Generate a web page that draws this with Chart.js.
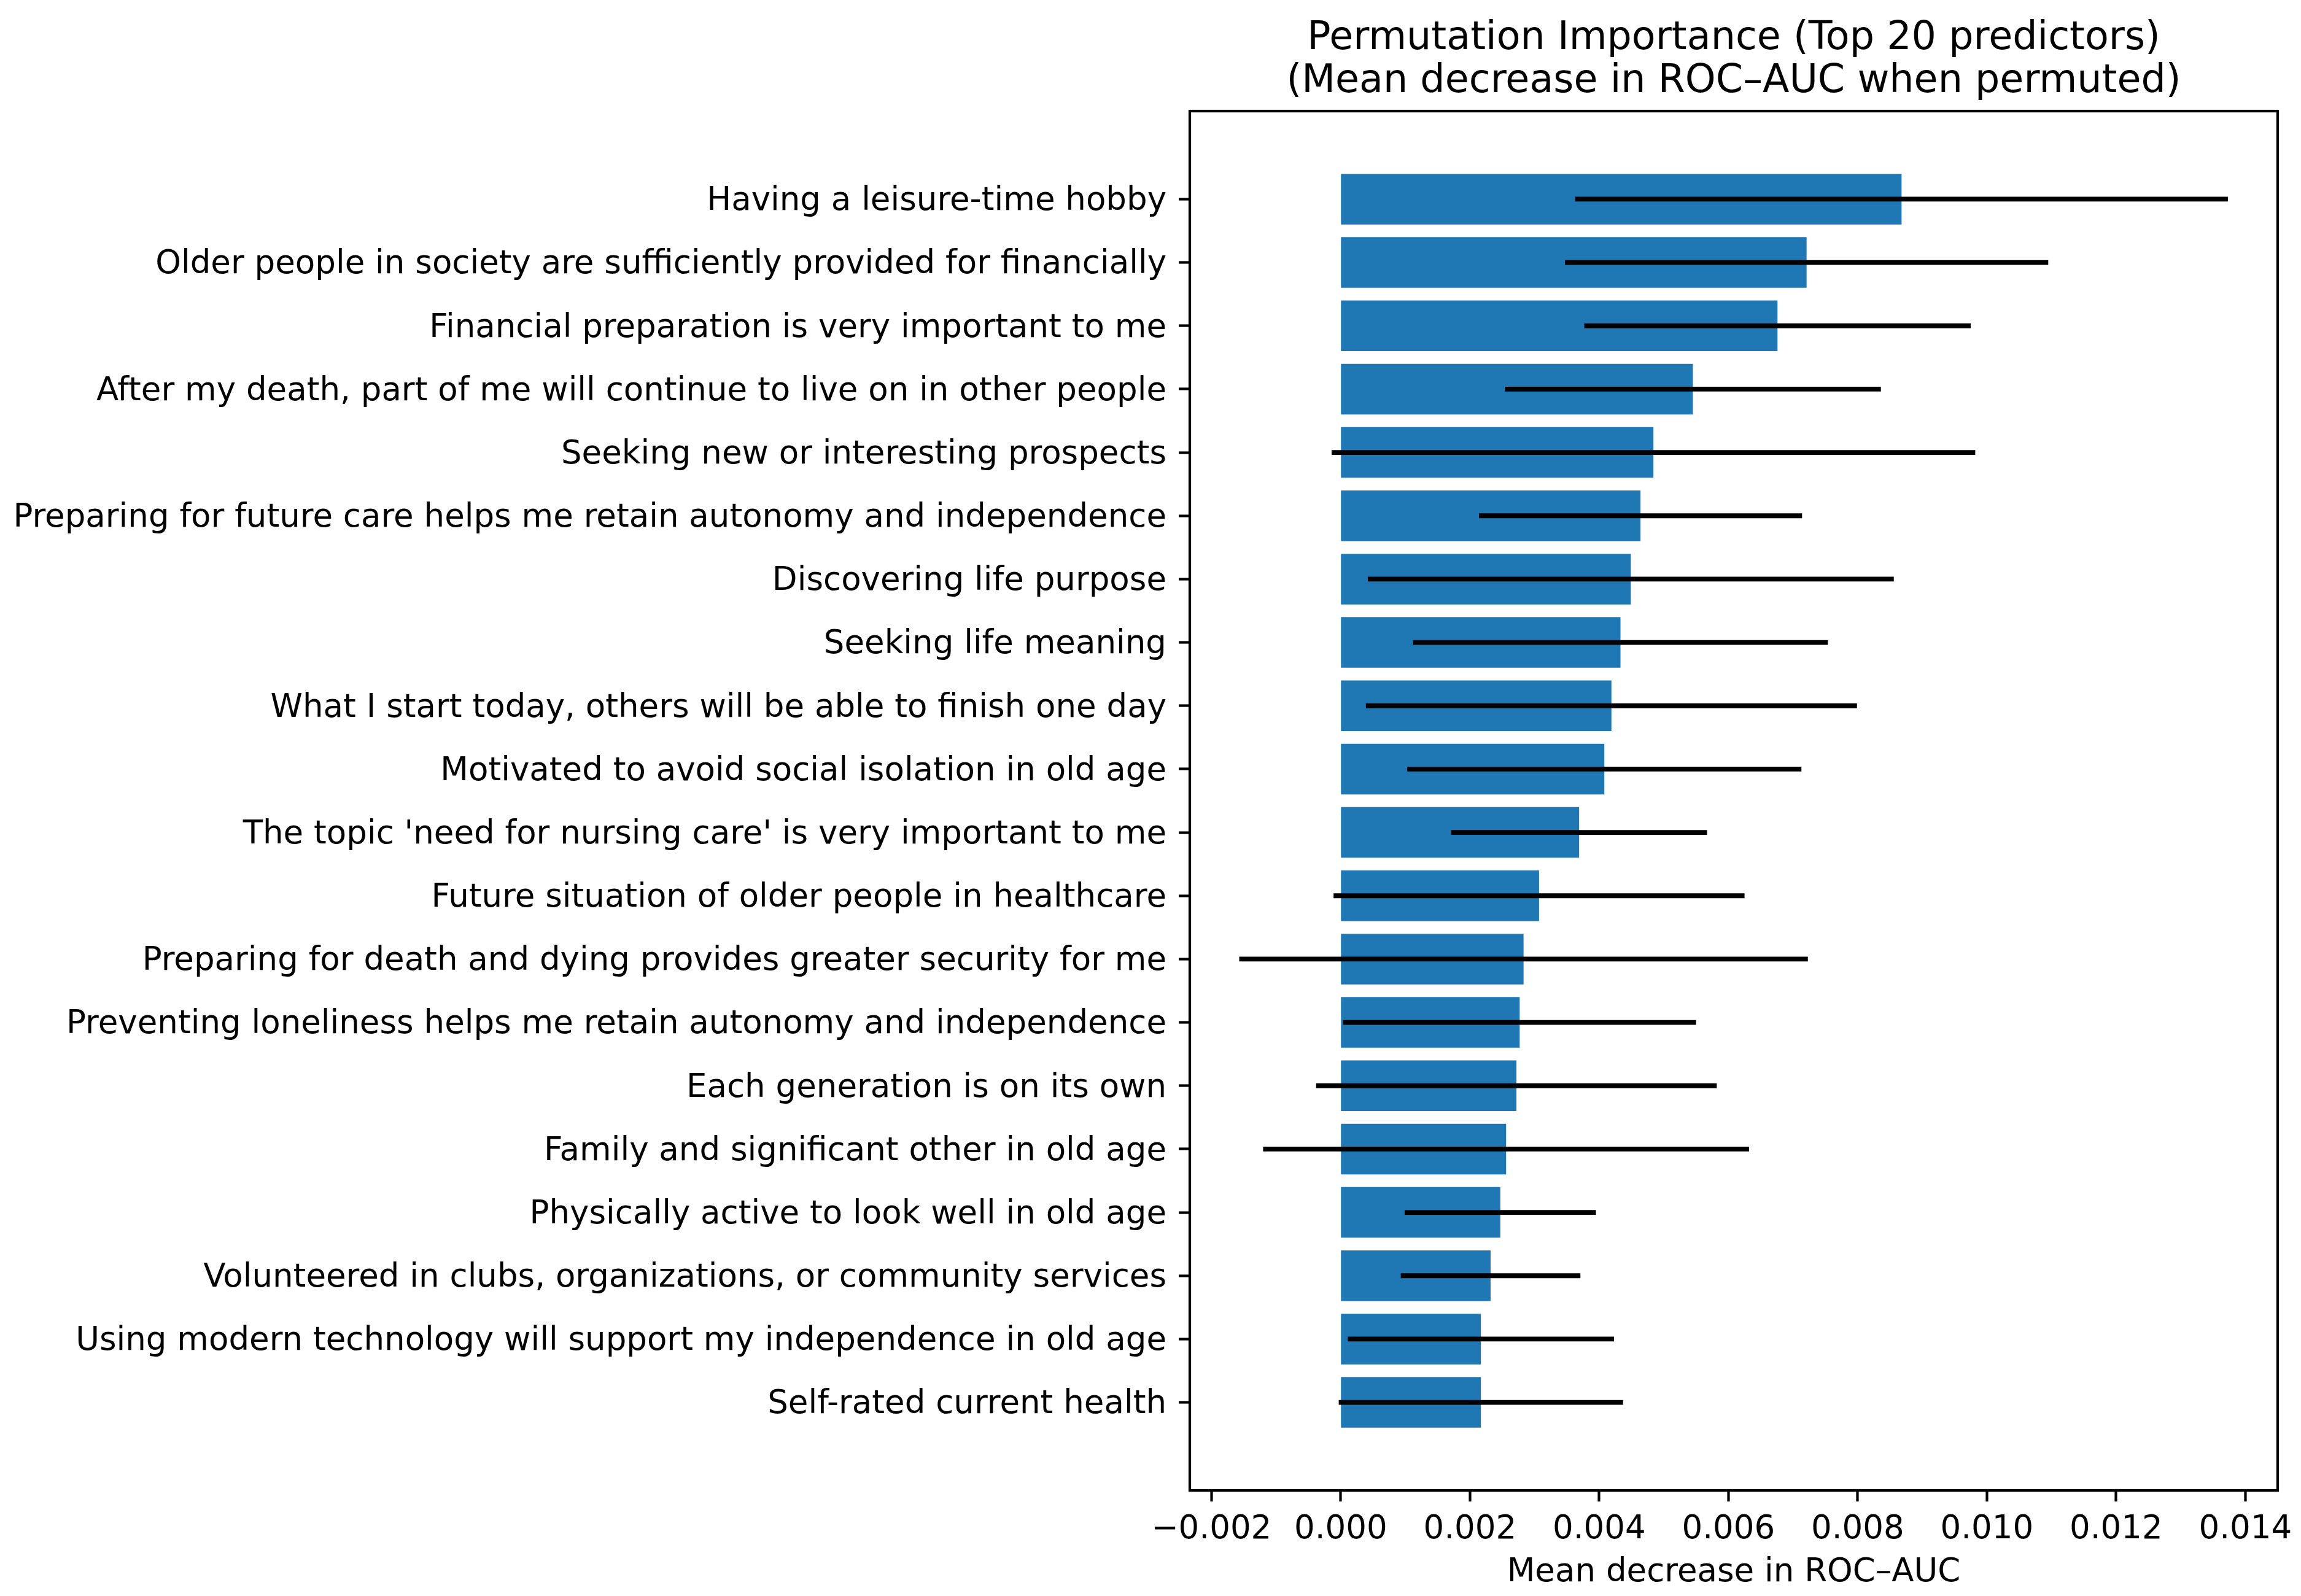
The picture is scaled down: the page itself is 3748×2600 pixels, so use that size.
<!DOCTYPE html>
<html>
<head>
<meta charset="utf-8">
<script src="https://cdn.jsdelivr.net/npm/chart.js@4.4.1/dist/chart.umd.min.js"></script>
<style>
  html, body { margin: 0; padding: 0; background: #ffffff; }
  #c { display: block; }
</style>
</head>
<body>
<canvas id="c" width="3748" height="2600" style="width:3748px;height:2600px"></canvas>
<script>
// ---- Data ----
const predictors = [
  "Having a leisure-time hobby",
  "Older people in society are sufficiently provided for financially",
  "Financial preparation is very important to me",
  "After my death, part of me will continue to live on in other people",
  "Seeking new or interesting prospects",
  "Preparing for future care helps me retain autonomy and independence",
  "Discovering life purpose",
  "Seeking life meaning",
  "What I start today, others will be able to finish one day",
  "Motivated to avoid social isolation in old age",
  "The topic 'need for nursing care' is very important to me",
  "Future situation of older people in healthcare",
  "Preparing for death and dying provides greater security for me",
  "Preventing loneliness helps me retain autonomy and independence",
  "Each generation is on its own",
  "Family and significant other in old age",
  "Physically active to look well in old age",
  "Volunteered in clubs, organizations, or community services",
  "Using modern technology will support my independence in old age",
  "Self-rated current health"
];
const importanceMean = [
  0.00868, 0.00721, 0.00676, 0.00545, 0.00484, 0.00464, 0.00449, 0.00433, 0.00419, 0.00408,
  0.00369, 0.00307, 0.00283, 0.00277, 0.00272, 0.00256, 0.00247, 0.00232, 0.00217, 0.00217
];
const importanceStd = [
  0.00505, 0.00374, 0.00299, 0.00291, 0.00498, 0.00250, 0.00407, 0.00321, 0.00380, 0.00305,
  0.00198, 0.00318, 0.00440, 0.00273, 0.00310, 0.00376, 0.00148, 0.00139, 0.00206, 0.00220
];
const xTickValues = [-0.002, 0.000, 0.002, 0.004, 0.006, 0.008, 0.010, 0.012, 0.014];
const titleLines = ["Permutation Importance (Top 20 predictors)", "(Mean decrease in ROC\u2013AUC when permuted)"];
const xAxisLabel = "Mean decrease in ROC\u2013AUC";

// ---- Styling ----
const FONT = '"DejaVu Sans", "Liberation Sans", sans-serif';
const BAR_COLOR = '#1f77b4';
const LABEL_SIZE = 53;
const TITLE_SIZE = 63.5;

const errorBarPlugin = {
  id: 'errorBars',
  afterDatasetsDraw(chart) {
    const ctx = chart.ctx;
    const xs = chart.scales.x, ys = chart.scales.y;
    ctx.save();
    ctx.strokeStyle = '#000000';
    ctx.lineWidth = 7.8;
    ctx.lineCap = 'butt';
    importanceMean.forEach((m, i) => {
      const y = ys.getPixelForValue(i);
      const x0 = xs.getPixelForValue(m - importanceStd[i]);
      const x1 = xs.getPixelForValue(m + importanceStd[i]);
      ctx.beginPath();
      ctx.moveTo(x0, y);
      ctx.lineTo(x1, y);
      ctx.stroke();
    });
    ctx.restore();
  }
};

const framePlugin = {
  id: 'frameAndTitle',
  afterDraw(chart) {
    const ctx = chart.ctx;
    const a = chart.chartArea;
    ctx.save();
    ctx.strokeStyle = '#000000';
    ctx.lineWidth = 4.2;
    ctx.strokeRect(a.left, a.top, a.right - a.left, a.bottom - a.top);
    ctx.fillStyle = '#000000';
    ctx.font = TITLE_SIZE + 'px ' + FONT;
    ctx.textAlign = 'center';
    ctx.textBaseline = 'alphabetic';
    const cx = (a.left + a.right) / 2;
    ctx.fillText(titleLines[0], cx, 80);
    ctx.fillText(titleLines[1], cx, 150);
    ctx.restore();
  }
};

new Chart(document.getElementById('c'), {
  type: 'bar',
  data: {
    datasets: [{
      data: importanceMean.map((v, i) => ({ x: v, y: i })),
      backgroundColor: BAR_COLOR,
      borderWidth: 0,
      barPercentage: 0.8,
      categoryPercentage: 1.0
    }]
  },
  options: {
    indexAxis: 'y',
    responsive: false,
    devicePixelRatio: 1,
    animation: false,
    layout: { padding: { top: 181, right: 27, left: 0, bottom: 0 } },
    plugins: {
      legend: { display: false },
      tooltip: { enabled: false },
      title: { display: false }
    },
    scales: {
      x: {
        type: 'linear',
        position: 'bottom',
        min: -0.002335,
        max: 0.0145,
        afterBuildTicks(axis) { axis.ticks = xTickValues.map(v => ({ value: v })); },
        afterFit(scale) { scale.height = 172; },
        ticks: {
          color: '#000000',
          font: { family: FONT, size: LABEL_SIZE },
          padding: 14,
          maxRotation: 0,
          autoSkip: false,
          callback: v => (v < -1e-12 ? '\u2212' : '') + Math.abs(v).toFixed(3)
        },
        grid: {
          display: true,
          drawOnChartArea: false,
          drawTicks: true,
          tickLength: 18,
          tickWidth: 4.2,
          tickColor: '#000000'
        },
        border: { display: false },
        title: {
          display: true,
          text: xAxisLabel,
          color: '#000000',
          font: { family: FONT, size: LABEL_SIZE },
          padding: { top: 0, bottom: 6 }
        }
      },
      y: {
        type: 'linear',
        position: 'left',
        reverse: true,
        offset: false,
        min: -1.39,
        max: 20.39,
        afterBuildTicks(axis) { axis.ticks = predictors.map((_, i) => ({ value: i })); },
        afterFit(scale) { scale.width = 1938; },
        ticks: {
          color: '#000000',
          font: { family: FONT, size: LABEL_SIZE },
          padding: 20,
          labelOffset: 4,
          autoSkip: false,
          callback: v => predictors[v]
        },
        grid: {
          display: true,
          offset: false,
          drawOnChartArea: false,
          drawTicks: true,
          tickLength: 18,
          tickWidth: 4.2,
          tickColor: '#000000'
        },
        border: { display: false }
      }
    }
  },
  plugins: [errorBarPlugin, framePlugin]
});
</script>
</body>
</html>
